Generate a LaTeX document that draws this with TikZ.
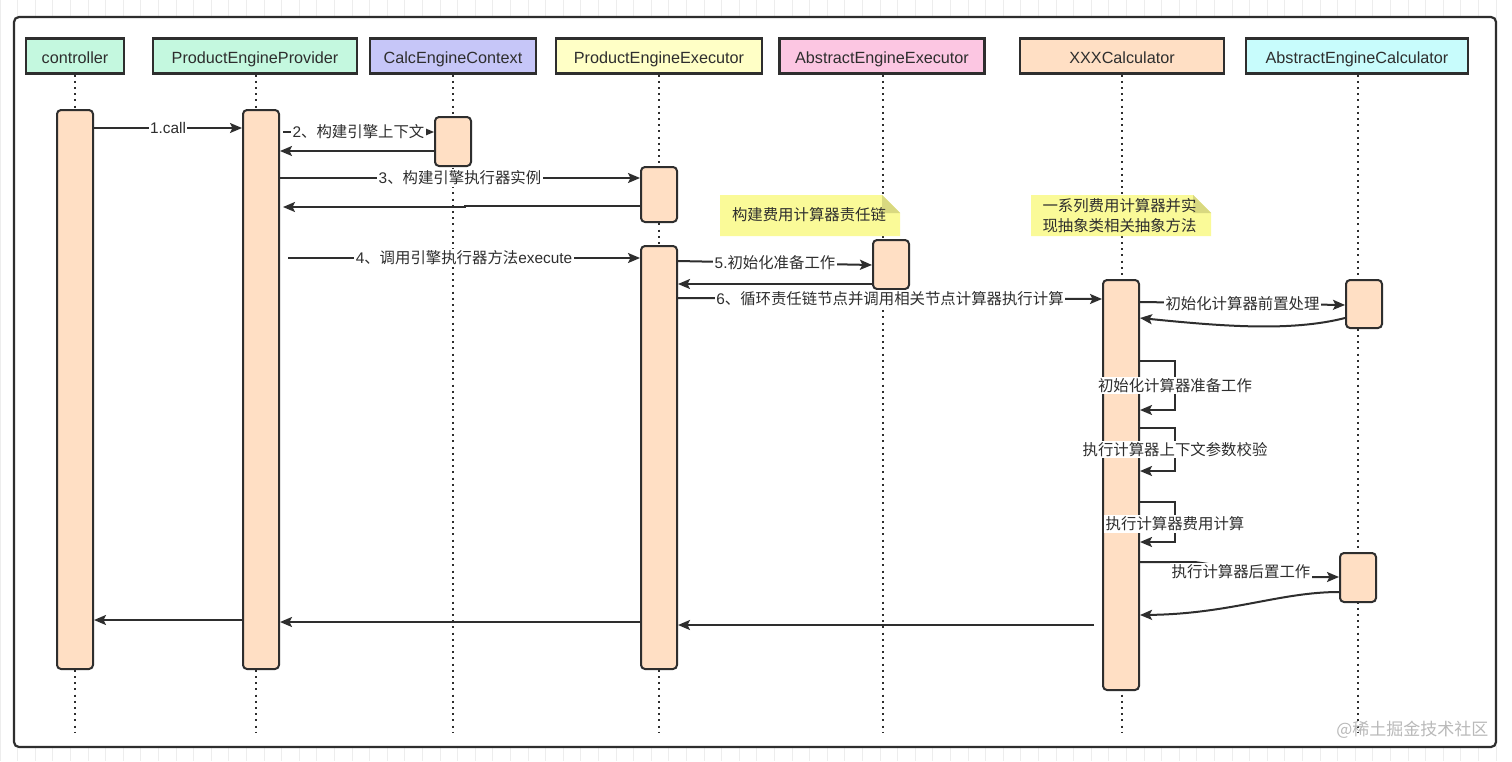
\documentclass[tikz,border=0pt]{standalone}
\usepackage{fontspec}
\setmainfont{Liberation Sans}
\newfontfamily\cjk{Noto Sans CJK SC}
\usetikzlibrary{arrows.meta,calc}
\definecolor{ink}{HTML}{2E2E2E}
\definecolor{mint}{HTML}{C4F8DF}
\definecolor{lav}{HTML}{C6C6F8}
\definecolor{lyel}{HTML}{FFFFC6}
\definecolor{lpink}{HTML}{FCC6E2}
\definecolor{peach}{HTML}{FFDFC4}
\definecolor{lcyan}{HTML}{C8FCFC}
\definecolor{notefill}{HTML}{FAFA98}
\definecolor{notefold}{HTML}{D8D880}
\definecolor{gridc}{HTML}{EDEDED}
\tikzset{
  hdr/.style={draw=ink, line width=2.2pt, minimum height=35pt, inner sep=0pt, text height=14.5pt, text depth=0pt, font=\fontsize{16.2}{19}\selectfont, text=ink},
  bar/.style={draw=ink, line width=2pt, fill=peach, rounded corners=4pt, minimum width=36pt, inner sep=0pt},
  life/.style={draw=ink, line width=2.2pt, dash pattern=on 2pt off 4.2pt},
  msg/.style={draw=ink, line width=2pt, -{Stealth[length=12pt,width=10pt,inset=2.5pt]}},
  lbl/.style={fill=white, inner sep=1.5pt, text=ink, font=\fontsize{15.4}{18}\selectfont},
  notetxt/.style={text=ink, font=\fontsize{15.4}{20}\selectfont, align=left}
}
\begin{document}
\begin{tikzpicture}[x=1pt,y=-1pt]
\useasboundingbox (0,0) rectangle (1512,761);
% background grid
\fill[white] (0,0) rectangle (1512,761);
\draw[gridc, line width=0.8pt] (0,0) grid[step=17.6] (1512,761);
% frame
\draw[ink, line width=2.2pt, fill=white, rounded corners=5pt] (14,17) rectangle (1496,747);
% headers
\node[hdr, fill=mint, minimum width=98pt]  (hc)  at (75,56)  {controller};
\node[hdr, fill=mint, minimum width=204pt] (hp)  at (255,56) {ProductEngineProvider};
\node[hdr, fill=lav,  minimum width=166pt] (hx)  at (453,56) {CalcEngineContext};
\node[hdr, fill=lyel, minimum width=206pt] (he)  at (659,56) {ProductEngineExecutor};
\node[hdr, fill=lpink,minimum width=205pt] (ha)  at (882,56) {AbstractEngineExecutor};
\node[hdr, fill=peach,minimum width=204pt] (hk)  at (1122,56) {XXXCalculator};
\node[hdr, fill=lcyan,minimum width=222pt] (hb)  at (1357,56) {AbstractEngineCalculator};
% lifeline ends
\coordinate (ec) at (75,733);
\coordinate (ep) at (256,733);
\coordinate (ex) at (453,733);
\coordinate (ee) at (659,733);
\coordinate (ea) at (883,733);
\coordinate (ek) at (1122,733);
\coordinate (eb) at (1358,733);
\draw[life] (hc.south -| ec) -- (ec);
\draw[life] (hp.south -| ep) -- (ep);
\draw[life] (hx.south -| ex) -- (ex);
\draw[life] (he.south -| ee) -- (ee);
\draw[life] (ha.south -| ea) -- (ea);
\draw[life] (hk.south -| ek) -- (ek);
\draw[life] (hb.south -| eb) -- (eb);
% notes
\fill[notefill] (720,195) -- (882,195) -- (900,213) -- (900,236) -- (720,236) -- cycle;
\fill[notefold] (882,195) -- (900,213) -- (882,213) -- cycle;
\node[notetxt] (n1) at (809,215) {\cjk 构建费用计算器责任链};
\fill[notefill] (1031,195) -- (1193,195) -- (1211,213) -- (1211,236) -- (1031,236) -- cycle;
\fill[notefold] (1193,195) -- (1211,213) -- (1193,213) -- cycle;
\node[notetxt, anchor=west] (n2) at (1039,215.5) {\cjk 一系列费用计算器并实\\\cjk 现抽象类相关抽象方法};
% activation bars
\node[bar, minimum height=559pt] (bc)  at (75,389.5) {};
\node[bar, minimum height=559pt] (bp)  at (261,389.5) {};
\node[bar, minimum height=49pt]  (bx)  at (453,141.5) {};
\node[bar, minimum height=55pt]  (be1) at (659,194.5) {};
\node[bar, minimum height=423pt] (be2) at (659,457.5) {};
\node[bar, minimum height=49pt]  (ba)  at (891,264.5) {};
\node[bar, minimum height=410pt] (bk)  at (1121,485) {};
\node[bar, minimum height=48pt]  (bb1) at (1364,304) {};
\node[bar, minimum height=49pt]  (bb2) at (1358,577.5) {};
% messages
\draw[msg] (bc.east |- 0,128) -- node[lbl]{1.call} (bp.west |- 0,128);
\draw[msg] ([xshift=3pt]bp.east |- 0,132) -- node[lbl]{2{\cjk 、构建引擎上下文}} (bx.west |- 0,132);
\draw[msg] (bx.west |- 0,151) -- (bp.east |- 0,151);
\draw[msg] (bp.east |- 0,178) -- node[lbl]{3{\cjk 、构建引擎执行器实例}} (be1.west |- 0,178);
\draw[msg] (be1.west |- 0,206) -- (465,206) -- (465,207) -- ([xshift=3pt]bp.east |- 0,207);
\draw[msg] ([xshift=8pt]bp.east |- 0,258) -- node[lbl]{4{\cjk 、调用引擎执行器方法}execute} (be2.west |- 0,258);
\draw[msg] (be2.east |- 0,261) -- node[lbl]{5.{\cjk 初始化准备工作}} (ba.west |- 0,265);
\draw[msg] (ba.west |- 0,284) -- (be2.east |- 0,284);
\draw[msg] (be2.east |- 0,298) -- node[lbl]{6{\cjk 、循环责任链节点并调用相关节点计算器执行计算}} (bk.west |- 0,299);
\draw[msg] (bk.east |- 0,302) -- node[lbl]{\cjk 初始化计算器前置处理} (bb1.west |- 0,305);
\draw[msg] (bb1.west |- 0,318) .. controls (1290,332) and (1220,326) .. (bk.east |- 0,318);
% self calls
\draw[msg] (bk.east |- 0,361) -- (1175,361) -- node[lbl]{\cjk 初始化计算器准备工作} (1175,410) -- (bk.east |- 0,410);
\draw[msg] (bk.east |- 0,428) -- (1175,428) -- node[lbl]{\cjk 执行计算器上下文参数校验} (1175,471) -- (bk.east |- 0,471);
\draw[msg] (bk.east |- 0,502) -- (1175,502) -- node[lbl, pos=0.55]{\cjk 执行计算器费用计算} (1175,542) -- (bk.east |- 0,542);
\draw[msg] (bk.east |- 0,562) -- (1195,562) -- (1295,577) -- (bb2.west |- 0,577);
\node[lbl] (l9) at (1241,572) {\cjk 执行计算器后置工作};
\draw[msg] (bb2.west |- 0,592) .. controls (1280,592) and (1230,614) .. (bk.east |- 0,615);
% returns
\draw[msg] ([xshift=-8pt]bk.west |- 0,625) -- (be2.east |- 0,625);
\draw[msg] (be2.west |- 0,622) -- (bp.east |- 0,622);
\draw[msg] (bp.west |- 0,620) -- (bc.east |- 0,620);
% watermark
\node[text=gray!55, font=\cjk\fontsize{17}{20}\selectfont, anchor=east] (wm) at (1492,730) {@稀土掘金技术社区};
\end{tikzpicture}
\end{document}
